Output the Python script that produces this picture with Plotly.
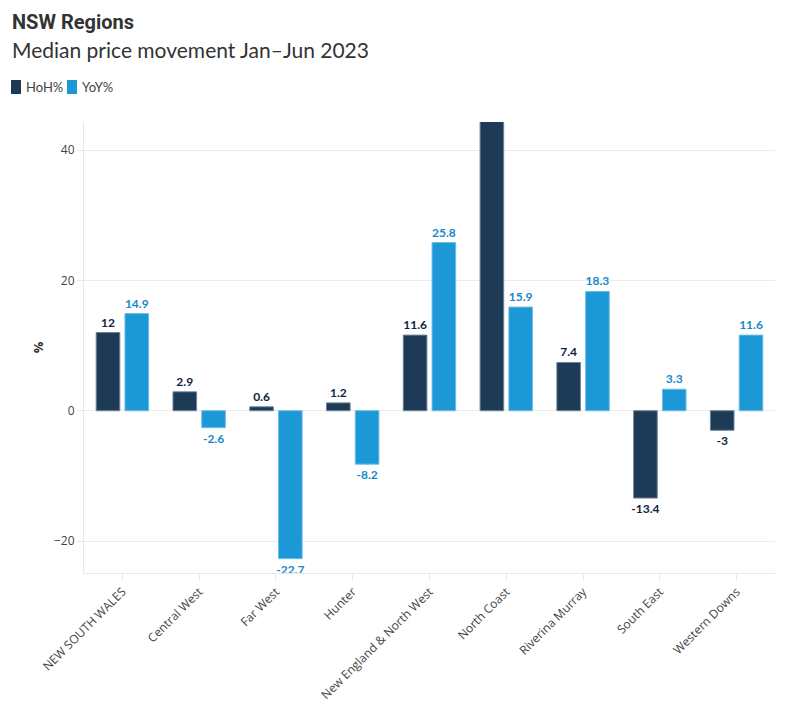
import plotly.graph_objects as go

regions = ["NEW SOUTH WALES", "Central West", "Far West", "Hunter",
           "New England & North West", "North Coast", "Riverina Murray",
           "South East", "Western Downs"]
hoh = [12, 2.9, 0.6, 1.2, 11.6, 52, 7.4, -13.4, -3]
yoy = [14.9, -2.6, -22.7, -8.2, 25.8, 15.9, 18.3, 3.3, 11.6]
hoh_labels = ["12", "2.9", "0.6", "1.2", "11.6", "", "7.4", "-13.4", "-3"]
yoy_labels = ["14.9", "-2.6", "-22.7", "-8.2", "25.8", "15.9", "18.3", "3.3", "11.6"]
series_names = ["HoH%", "YoY%"]
series_colors = ["#1d3a57", "#1b98d5"]
outline_colors = ["#6f8398", "#6cbbe6"]
label_colors = ["#0d2440", "#1888cc"]

W, H = 796, 719
ml, mr, mt, mb = 84, 21, 122, 146
pw = W - ml - mr
ph = H - mt - mb

def py(px):
    return (H - mb - px) / ph

def px_x(px):
    return (px - ml) / pw

fig = go.Figure()
for name, vals, labels, col, oc, lc in zip(series_names, [hoh, yoy], [hoh_labels, yoy_labels],
                                           series_colors, outline_colors, label_colors):
    fig.add_trace(go.Bar(
        x=regions, y=vals, name=name, text=labels, textposition="outside",
        marker=dict(color=col, line=dict(color=oc, width=1)),
        textfont=dict(family="Lato", size=12, color=lc, weight="bold"),
        constraintext="none",
        cliponaxis=True, showlegend=False,
    ))

shapes = []
annotations = [
    dict(text="<b>NSW Regions</b>", xref="paper", yref="paper", x=px_x(10), y=py(22),
         xanchor="left", yanchor="middle", showarrow=False,
         font=dict(family="Roboto", size=20, color="#333")),
    dict(text="Median price movement Jan–Jun 2023", xref="paper", yref="paper",
         x=px_x(10), y=py(50), xanchor="left", yanchor="middle", showarrow=False,
         font=dict(family="Lato", size=21, color="#333")),
]
# compact legend built from the series names and colours
leg_x = [11, 67]
for name, col, lx in zip(series_names, series_colors, leg_x):
    x0, x1, y0, y1 = lx, lx + 10, 80, 94
    shapes.append(dict(type="rect", xref="paper", yref="paper",
                       x0=px_x(x0), x1=px_x(x1), y0=py(y1), y1=py(y0),
                       fillcolor=col, line=dict(width=0), layer="above"))
    annotations.append(dict(text=name, xref="paper", yref="paper", x=px_x(x1 + 3), y=py(87),
                            xanchor="left", yanchor="middle", showarrow=False,
                            font=dict(family="Lato", size=13, color="#444")))

fig.update_layout(
    width=W, height=H,
    margin=dict(l=ml, r=mr, t=mt, b=mb),
    paper_bgcolor="white", plot_bgcolor="white",
    barmode="group", bargap=0.25, bargroupgap=0.18,
    font=dict(family="Open Sans", color="#444"),
    showlegend=False,
    shapes=shapes,
    annotations=annotations,
)
fig.update_xaxes(
    automargin=False,
    showline=True, linecolor="#e8e8e8", linewidth=1,
    ticks="outside", ticklen=6, tickcolor="#e8e8e8",
    tickangle=-45, tickfont=dict(family="Open Sans", size=12, color="#444"),
    showgrid=False,
)
fig.update_yaxes(
    automargin=False,
    range=[-24.9, 44.3], dtick=20,
    showgrid=True, gridcolor="#ececec", gridwidth=1,
    zeroline=True, zerolinecolor="#ececec", zerolinewidth=1,
    showline=True, linecolor="#e8e8e8", linewidth=1,
    ticks="outside", ticklen=6, tickcolor="#e8e8e8",
    tickfont=dict(family="Open Sans", size=12, color="#444"),
    title=dict(text="<b>%</b>", font=dict(family="Open Sans", size=13, color="#333"), standoff=7),
)

fig.write_html("out.html")
